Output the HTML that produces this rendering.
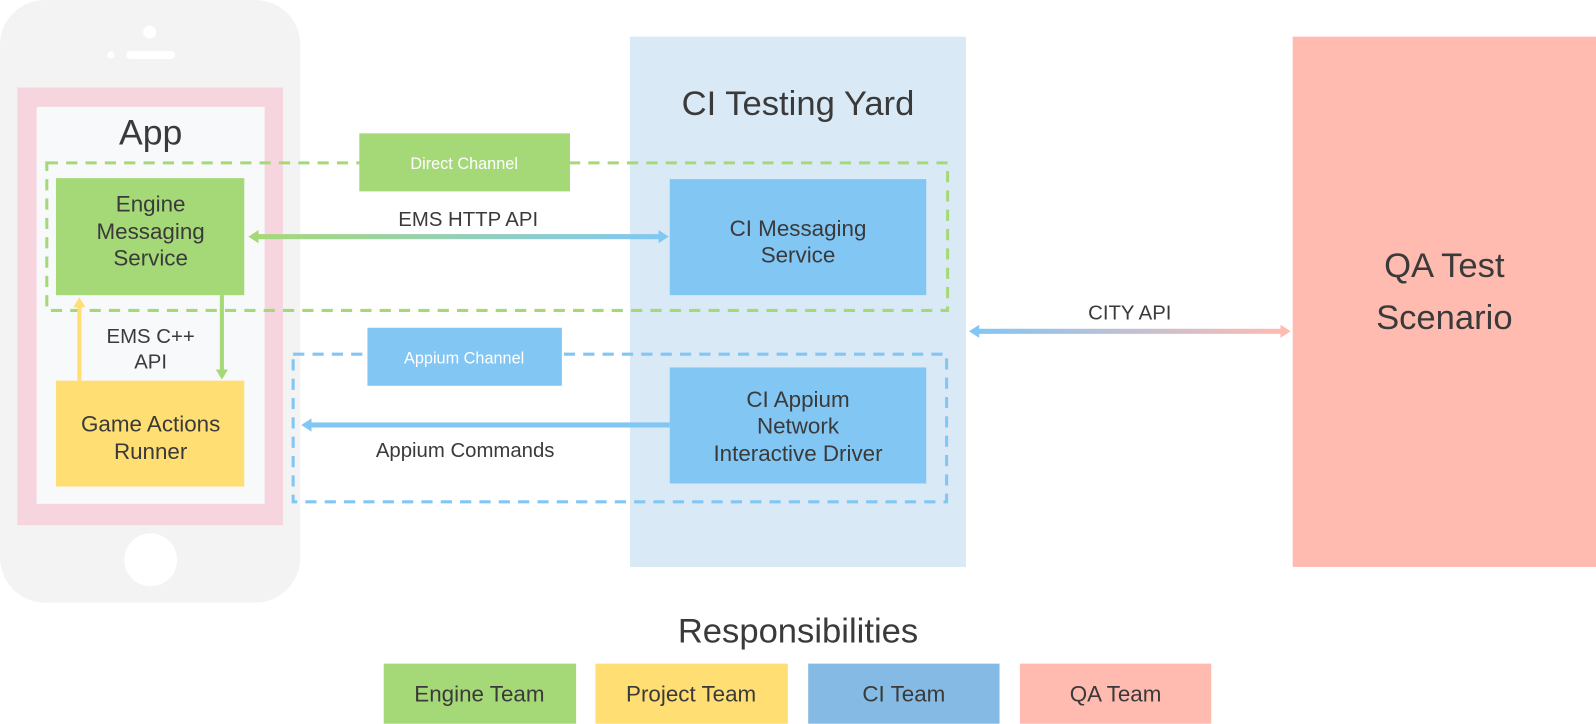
<!DOCTYPE html>
<html><head><meta charset="utf-8"><style>
html,body{margin:0;padding:0;background:#fff;}
svg{display:block;}
text{font-family:"Liberation Sans",sans-serif;fill:#3a3a3a;text-anchor:middle;}
</style></head><body>
<svg width="1596" height="724" viewBox="0 0 1568 711.3" preserveAspectRatio="none" xmlns="http://www.w3.org/2000/svg">
<defs>
<linearGradient id="g1" x1="0" x2="1"><stop offset="0" stop-color="#a5d977"/><stop offset="1" stop-color="#82c6f4"/></linearGradient>
<linearGradient id="g2" x1="0" x2="1"><stop offset="0" stop-color="#82c6f4"/><stop offset="1" stop-color="#ffbbb0"/></linearGradient>
</defs>
<!-- phone -->
<rect x="0" y="0" width="295" height="592" rx="44" fill="#f3f3f3"/>
<circle cx="147" cy="31.5" r="6.4" fill="#fff"/>
<rect x="124" y="50" width="48" height="8" rx="4" fill="#fff"/>
<circle cx="109" cy="54" r="3.5" fill="#fff"/>
<circle cx="148" cy="550" r="26" fill="#fff"/>
<rect x="17" y="86" width="261" height="430" fill="#f6d5df"/>
<rect x="36" y="105" width="224" height="390" fill="#f8f9fb"/>
<text x="148" y="142" font-size="35">App</text>

<!-- CI yard -->
<rect x="619" y="36" width="330" height="521" fill="#d9eaf6"/>
<text x="784" y="113" font-size="34">CI Testing Yard</text>

<!-- QA -->
<rect x="1270" y="36" width="298" height="521" fill="#ffbbb0"/>
<text x="1419" y="272" font-size="34">QA Test</text>
<text x="1419" y="323" font-size="34">Scenario</text>

<!-- dashed groups -->
<rect x="46" y="160" width="885" height="145" fill="none" stroke="#a5d977" stroke-width="3" stroke-dasharray="11,8"/>
<rect x="288" y="348" width="642" height="145" fill="none" stroke="#82c6f4" stroke-width="3" stroke-dasharray="11,8"/>

<rect x="353" y="131" width="207" height="57" fill="#a5d977"/>
<text x="456" y="166" font-size="16" style="fill:#fff">Direct Channel</text>
<rect x="361" y="322" width="191" height="57" fill="#82c6f4"/>
<text x="456" y="357" font-size="16" style="fill:#fff">Appium Channel</text>

<!-- boxes -->
<rect x="55" y="175" width="185" height="115" fill="#a5d977"/>
<text x="148" y="208" font-size="22">Engine</text>
<text x="148" y="235" font-size="22">Messaging</text>
<text x="148" y="261" font-size="22">Service</text>
<rect x="55" y="374" width="185" height="104" fill="#ffdf73"/>
<text x="148" y="424" font-size="22">Game Actions</text>
<text x="148" y="451" font-size="22">Runner</text>

<rect x="658" y="176" width="252" height="114" fill="#82c6f4"/>
<text x="784" y="232" font-size="22">CI Messaging</text>
<text x="784" y="258" font-size="22">Service</text>
<rect x="658" y="361" width="252" height="114" fill="#82c6f4"/>
<text x="784" y="400" font-size="22">CI Appium</text>
<text x="784" y="426" font-size="22">Network</text>
<text x="784" y="453" font-size="22">Interactive Driver</text>

<!-- arrows -->
<line x1="78" y1="374" x2="78" y2="300" stroke="#ffdf73" stroke-width="4"/>
<polygon points="78,292 72,302 84,302" fill="#ffdf73"/>
<line x1="218" y1="290" x2="218" y2="364" stroke="#a5d977" stroke-width="4"/>
<polygon points="218,373 212,363 224,363" fill="#a5d977"/>
<text x="148" y="337" font-size="20">EMS C++</text>
<text x="148" y="362" font-size="20">API</text>

<rect x="252" y="230" width="396" height="5" fill="url(#g1)"/>
<polygon points="244,232.5 254,226 254,239" fill="#a5d977"/>
<polygon points="657,232.5 647,226 647,239" fill="#82c6f4"/>
<text x="460" y="222" font-size="20">EMS HTTP API</text>

<rect x="304" y="415" width="354" height="5" fill="#82c6f4"/>
<polygon points="296,417.5 306,411 306,424" fill="#82c6f4"/>
<text x="457" y="449" font-size="20">Appium Commands</text>

<rect x="960" y="323" width="300" height="5" fill="url(#g2)"/>
<polygon points="952,325.5 962,319 962,332" fill="#82c6f4"/>
<polygon points="1268,325.5 1258,319 1258,332" fill="#ffbbb0"/>
<text x="1110" y="314" font-size="20">CITY API</text>

<!-- legend -->
<text x="784" y="631" font-size="34">Responsibilities</text>
<rect x="377" y="652" width="189" height="59" fill="#a5d977"/>
<text x="471" y="689" font-size="22">Engine Team</text>
<rect x="585" y="652" width="189" height="59" fill="#ffdf73"/>
<text x="679" y="689" font-size="22">Project Team</text>
<rect x="794" y="652" width="188" height="59" fill="#84bae3"/>
<text x="888" y="689" font-size="22">CI Team</text>
<rect x="1002" y="652" width="188" height="59" fill="#ffbbb0"/>
<text x="1096" y="689" font-size="22">QA Team</text>
</svg>
</body></html>
